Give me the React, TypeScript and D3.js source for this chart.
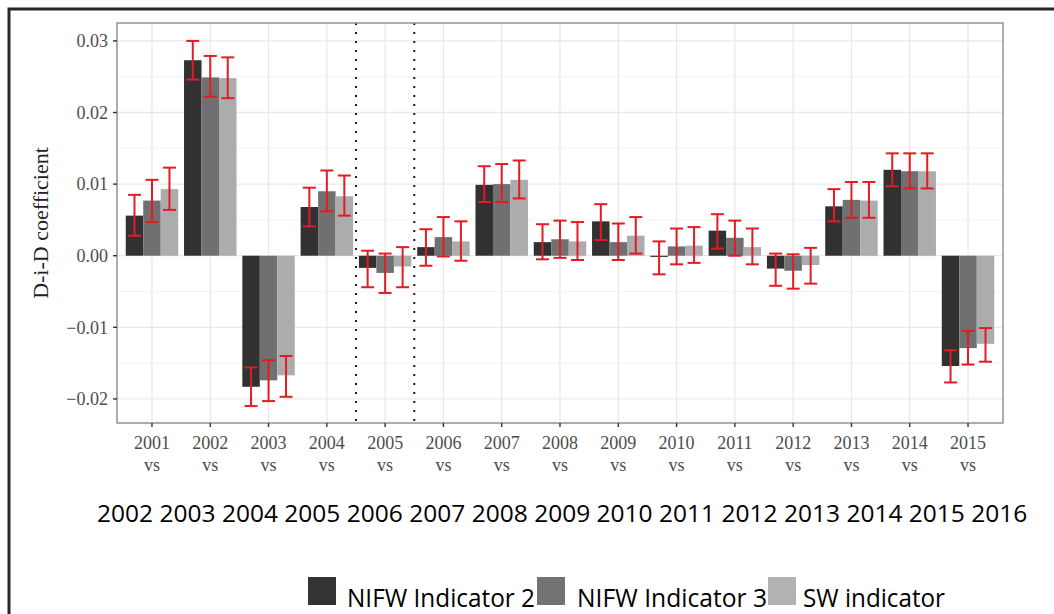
import * as d3 from 'd3'

const categories = ['2001', '2002', '2003', '2004', '2005', '2006', '2007', '2008', '2009', '2010', '2011', '2012', '2013', '2014', '2015']
const endYears = ['2002', '2003', '2004', '2005', '2006', '2007', '2008', '2009', '2010', '2011', '2012', '2013', '2014', '2015', '2016']
const seriesNames = ['NIFW Indicator 2', 'NIFW Indicator 3', 'SW indicator']
const yTicks = [-0.02, -0.01, 0, 0.01, 0.02, 0.03]
const yMinorTicks = [-0.015, -0.005, 0.005, 0.015, 0.025]
// dotted lines sit between these pairs of categories
const dividerPairs = [
  ['2004', '2005'],
  ['2005', '2006'],
]

const nifw2 = [0.0056, 0.0273, -0.0183, 0.0068, -0.0017, 0.0012, 0.0099, 0.0019, 0.0048, -0.0001, 0.0035, -0.0018, 0.0069, 0.012, -0.0154]
const nifw2Lo = [0.0028, 0.0246, -0.021, 0.0041, -0.0044, -0.0014, 0.0075, -0.0005, 0.0022, -0.0026, 0.001, -0.0042, 0.0048, 0.0097, -0.0177]
const nifw2Hi = [0.0085, 0.03, -0.0156, 0.0095, 0.0007, 0.0037, 0.0125, 0.0044, 0.0072, 0.002, 0.0058, 0.0003, 0.0093, 0.0143, -0.0132]

const nifw3 = [0.0077, 0.0249, -0.0174, 0.009, -0.0024, 0.0026, 0.01, 0.0023, 0.0019, 0.0013, 0.0025, -0.0021, 0.0078, 0.0118, -0.0129]
const nifw3Lo = [0.0047, 0.0222, -0.0203, 0.0062, -0.0052, -0.0001, 0.0075, -0.0003, -0.0006, -0.0012, 0.0, -0.0046, 0.0053, 0.0094, -0.0152]
const nifw3Hi = [0.0106, 0.0279, -0.0146, 0.0119, 0.0003, 0.0054, 0.0128, 0.0049, 0.0045, 0.0038, 0.0049, 0.0002, 0.0103, 0.0143, -0.0105]

const sw = [0.0093, 0.0248, -0.0167, 0.0083, -0.0015, 0.002, 0.0106, 0.002, 0.0028, 0.0014, 0.0012, -0.0013, 0.0077, 0.0118, -0.0123]
const swLo = [0.0064, 0.022, -0.0197, 0.0056, -0.0044, -0.0007, 0.008, -0.0006, 0.0003, -0.001, -0.0012, -0.0039, 0.0053, 0.0094, -0.0148]
const swHi = [0.0123, 0.0277, -0.014, 0.0112, 0.0012, 0.0048, 0.0133, 0.0047, 0.0054, 0.004, 0.0038, 0.0011, 0.0103, 0.0143, -0.0101]

const values = [nifw2, nifw3, sw]
const lows = [nifw2Lo, nifw3Lo, swLo]
const highs = [nifw2Hi, nifw3Hi, swHi]
const barColors = ['#313131', '#707070', '#acacac']
const legendColors = ['#333333', '#737373', '#b2b2b2']

const W = 1054
const H = 614
const PANEL = { left: 117, top: 23, right: 1003, bottom: 423 }
const SERIF = '"Liberation Serif", "DejaVu Serif", serif'
const SANS = '"Open Sans", "Noto Sans", sans-serif'
const TEXT_GREY = '#4d4d4d'
const ERR_RED = '#e31b23'

export default function App() {
  const x = d3.scalePoint<string>().domain(categories).range([PANEL.left, PANEL.right]).padding(0.6)
  const step = x.step()
  const y = d3.scaleLinear().domain([-0.02336, 0.0325]).range([PANEL.bottom, PANEL.top])
  const inner = d3.scaleBand<number>().domain([0, 1, 2]).range([-step * 0.45, step * 0.45])
  const bw = inner.bandwidth()
  const capW = 13
  const fmt = d3.format('.2f')

  return (
    <svg width={W} height={H} style={{ position: 'fixed', left: 0, top: 0, background: '#fff' }}>
      {/* outer frame */}
      <rect x={9} y={9} width={W + 20} height={H + 20} fill="none" stroke="#262626" strokeWidth={3} />

      {/* panel background + grid */}
      <rect x={PANEL.left} y={PANEL.top} width={PANEL.right - PANEL.left} height={PANEL.bottom - PANEL.top} fill="#fff" />
      {yMinorTicks.map((t) => (
        <line key={'mn' + t} x1={PANEL.left} x2={PANEL.right} y1={y(t)} y2={y(t)} stroke="#f3f3f3" strokeWidth={1} />
      ))}
      {yTicks.map((t) => (
        <line key={'mj' + t} x1={PANEL.left} x2={PANEL.right} y1={y(t)} y2={y(t)} stroke="#e9e9e9" strokeWidth={1.3} />
      ))}
      {categories.map((c) => (
        <line key={'vg' + c} x1={x(c)} x2={x(c)} y1={PANEL.top} y2={PANEL.bottom} stroke="#e9e9e9" strokeWidth={1.3} />
      ))}

      {/* bars */}
      {categories.map((c, i) =>
        values.map((vals, s) => {
          const v = vals[i]
          const y0 = y(0)
          const yv = y(v)
          return (
            <rect
              key={c + s}
              x={(x(c) ?? 0) + (inner(s) ?? 0)}
              y={Math.min(y0, yv)}
              width={bw}
              height={Math.max(Math.abs(yv - y0), 1.2)}
              fill={barColors[s]}
            />
          )
        }),
      )}

      {/* error bars */}
      {categories.map((c, i) =>
        values.map((_, s) => {
          const cx = (x(c) ?? 0) + (inner(s) ?? 0) + bw / 2
          const yl = y(lows[s][i])
          const yh = y(highs[s][i])
          return (
            <g key={'e' + c + s} stroke={ERR_RED} strokeWidth={2}>
              <line x1={cx} x2={cx} y1={yh} y2={yl} />
              <line x1={cx - capW / 2} x2={cx + capW / 2} y1={yh} y2={yh} />
              <line x1={cx - capW / 2} x2={cx + capW / 2} y1={yl} y2={yl} />
            </g>
          )
        }),
      )}

      {/* dotted dividers */}
      {dividerPairs.map(([a, b]) => {
        const px = ((x(a) ?? 0) + (x(b) ?? 0)) / 2
        return (
          <line key={'dv' + a} x1={px} x2={px} y1={PANEL.top} y2={PANEL.bottom} stroke="#1a1a1a" strokeWidth={2} strokeDasharray="2 7" />
        )
      })}

      {/* panel border */}
      <rect x={PANEL.left} y={PANEL.top} width={PANEL.right - PANEL.left} height={PANEL.bottom - PANEL.top} fill="none" stroke="#8c8c8c" strokeWidth={1.4} />

      {/* y axis */}
      {yTicks.map((t) => (
        <g key={'yt' + t}>
          <line x1={PANEL.left - 4} x2={PANEL.left} y1={y(t)} y2={y(t)} stroke="#333" strokeWidth={1.4} />
          <text x={108} y={y(t)} dy="0.35em" textAnchor="end" fontFamily={SERIF} fontSize={18} fill={TEXT_GREY}>
            {fmt(t)}
          </text>
        </g>
      ))}
      <text
        transform={`translate(48,${(PANEL.top + PANEL.bottom) / 2}) rotate(-90)`}
        textAnchor="middle"
        fontFamily={SERIF}
        fontSize={22}
        fill="#222"
      >
        D-i-D coefficient
      </text>

      {/* x axis */}
      {categories.map((c) => (
        <g key={'xt' + c}>
          <line x1={x(c)} x2={x(c)} y1={PANEL.bottom} y2={PANEL.bottom + 4} stroke="#333" strokeWidth={1.4} />
          <text x={x(c)} y={449} textAnchor="middle" fontFamily={SERIF} fontSize={18} fill={TEXT_GREY}>
            {c}
          </text>
          <text x={x(c)} y={471} textAnchor="middle" fontFamily={SERIF} fontSize={18} fill={TEXT_GREY}>
            vs
          </text>
        </g>
      ))}

      {/* end years row */}
      {endYears.map((yr, i) => (
        <text key={'ey' + yr} x={97 + i * 62.45} y={522} fontFamily={SANS} fontSize={24} fill="#000" textLength={56} lengthAdjust="spacingAndGlyphs">
          {yr}
        </text>
      ))}

      {/* legend */}
      {seriesNames.map((name, i) => {
        const sx = [308, 537, 768][i]
        const tx = [347, 577, 803][i]
        const tw = [188, 190, 142][i]
        return (
          <g key={'lg' + name}>
            <rect x={sx} y={577} width={28} height={28} fill={legendColors[i]} />
            <text x={tx} y={607} fontFamily={SANS} fontSize={25} fill="#000" textLength={tw} lengthAdjust="spacingAndGlyphs">
              {name}
            </text>
          </g>
        )
      })}
    </svg>
  )
}
